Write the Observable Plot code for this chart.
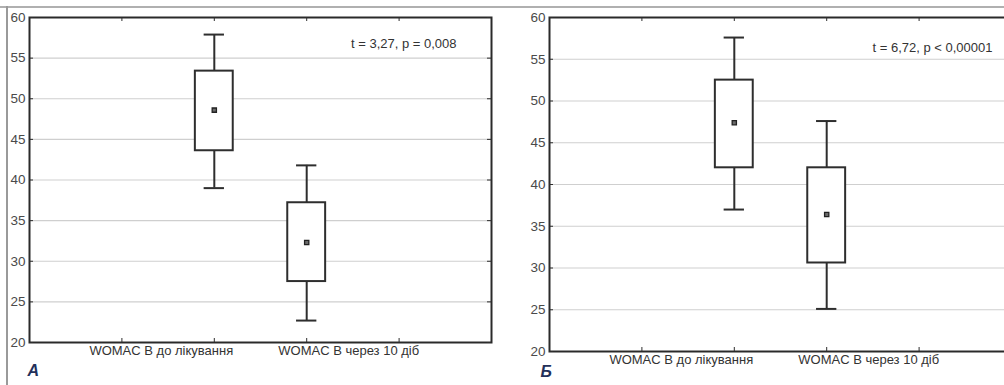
<!DOCTYPE html>
<html>
<head>
<meta charset="utf-8">
<script src="https://cdn.jsdelivr.net/npm/d3@7"></script>
<script src="https://cdn.jsdelivr.net/npm/@observablehq/plot@0.6"></script>
<style>
  html, body { margin: 0; padding: 0; background: #fff; }
  #wrap { position: relative; width: 1004px; height: 385px; overflow: hidden; background: #fff; }
  #topline { position: absolute; left: 0; top: 6px; width: 1004px; height: 2px; background: #b0b0b0; }
  #leftline { position: absolute; left: 6px; top: 6px; width: 2px; height: 379px; background: #9a9a9a; }
  .panel { position: absolute; top: 0; }
</style>
</head>
<body>
<div id="wrap">
  <div id="topline"></div>
  <div id="leftline"></div>
  <div id="pA" class="panel" style="left:0px"></div>
  <div id="pB" class="panel" style="left:500px"></div>
</div>
<script>
// ---------- data ----------
const categories = ["WOMAC B до лікування", "WOMAC B через 10 діб"];
const yTickValues = [20, 25, 30, 35, 40, 45, 50, 55, 60];
const gridValues = [25, 30, 35, 40, 45, 50, 55];
const xTickValues = [1, 2, 3, 4];

// Panel A
const aLow  = [39.0, 22.7];
const aQ1   = [43.6, 27.5];
const aMean = [48.6, 32.3];
const aQ3   = [53.4, 37.2];
const aHigh = [57.9, 41.8];
const aStat = "t = 3,27, p = 0,008";
const aLetter = "A";

// Panel Б
const bLow  = [37.0, 25.1];
const bQ1   = [42.0, 30.6];
const bMean = [47.4, 36.4];
const bQ3   = [52.5, 42.0];
const bHigh = [57.6, 47.6];
const bStat = "t = 6,72, p < 0,00001";
const bLetter = "Б";

// ---------- drawing ----------
const INK = "#2e2e2e";
const FONT = "'Liberation Sans', Arial, Helvetica, sans-serif";

function panel(o) {
  const rows = categories.map((c, i) => ({
    cat: c, pos: i + 2,
    low: o.low[i], q1: o.q1[i], mean: o.mean[i], q3: o.q3[i], high: o.high[i]
  }));
  const H = 385;
  const plotW = o.width - o.marginLeft - o.marginRight;
  const plotH = H - o.marginTop - o.marginBottom;
  const boxHalf = 0.205, capHalf = 0.11;
  return Plot.plot({
    width: o.width,
    height: H,
    marginLeft: o.marginLeft,
    marginRight: o.marginRight,
    marginTop: o.marginTop,
    marginBottom: o.marginBottom,
    style: { fontFamily: FONT, fontSize: "13px", background: "transparent", maxWidth: "none", overflow: "visible", color: "#444" },
    x: { domain: [0, 5], axis: null },
    y: { domain: [20, 60], axis: null },
    marks: [
      Plot.ruleY(gridValues, { y: d => d, stroke: "#cfcfcf", strokeWidth: 1.2 }),
      // whiskers
      Plot.ruleX(rows, { x: "pos", y1: "low", y2: "high", stroke: INK, strokeWidth: 2 }),
      Plot.ruleY(rows, { y: "low", x1: d => d.pos - capHalf, x2: d => d.pos + capHalf, stroke: INK, strokeWidth: 2 }),
      Plot.ruleY(rows, { y: "high", x1: d => d.pos - capHalf, x2: d => d.pos + capHalf, stroke: INK, strokeWidth: 2 }),
      // boxes
      Plot.rect(rows, { x1: d => d.pos - boxHalf, x2: d => d.pos + boxHalf, y1: "q1", y2: "q3", fill: "white", stroke: INK, strokeWidth: 2 }),
      // means
      Plot.dot(rows, { x: "pos", y: "mean", symbol: "square", r: 2.4, fill: "#6a6a6a", stroke: "#222", strokeWidth: 1.3 }),
      // frame
      Plot.frame({ stroke: "#2a2a2a", strokeWidth: 2 }),
      // inward ticks
      Plot.tickY(yTickValues, { y: d => d, insetRight: plotW - 4, stroke: INK }),
      Plot.tickY(yTickValues, { y: d => d, insetLeft: plotW - 4, stroke: INK }),
      Plot.tickX(xTickValues, { x: d => d, insetTop: plotH - 4, stroke: INK }),
      Plot.tickX(xTickValues, { x: d => d, insetBottom: plotH - 4, stroke: INK }),
      // y labels
      Plot.axisY(yTickValues, { tickSize: 0, tickPadding: 4, fontSize: 13.5, fill: "#4a4a4a" }),
      // category labels
      Plot.text([rows[0]], { x: "pos", text: "cat", frameAnchor: "bottom", dy: o.labelDy, dx: -53, fontSize: 13, fill: "#333" }),
      Plot.text([rows[1]], { x: "pos", text: "cat", frameAnchor: "bottom", dy: o.labelDy, dx: 42, fontSize: 13, fill: "#333" }),
      // statistic
      Plot.text([o.stat], { text: d => d, frameAnchor: "top-right", textAnchor: "end", dx: o.statDx, dy: o.statDy, fontSize: 13, fill: "#333" }),
      // panel letter
      Plot.text([o.letter], { text: d => d, frameAnchor: "bottom-left", textAnchor: "start", dx: o.letterDx, dy: o.letterDy, fontSize: 16, fontWeight: "bold", fontStyle: "italic", fill: "#23305a" })
    ]
  });
}

document.getElementById("pA").appendChild(panel({
  low: aLow, q1: aQ1, mean: aMean, q3: aQ3, high: aHigh, stat: aStat, letter: aLetter,
  width: 500, marginLeft: 29, marginRight: 9, marginTop: 17, marginBottom: 43,
  labelDy: 12, statDx: -35, statDy: 21, letterDx: -2, letterDy: 33
}));

document.getElementById("pB").appendChild(panel({
  low: bLow, q1: bQ1, mean: bMean, q3: bQ3, high: bHigh, stat: bStat, letter: bLetter,
  width: 512, marginLeft: 49, marginRight: 1, marginTop: 17, marginBottom: 34,
  labelDy: 12, statDx: -19, statDy: 25, letterDx: -9, letterDy: 25
}));
</script>
</body>
</html>
